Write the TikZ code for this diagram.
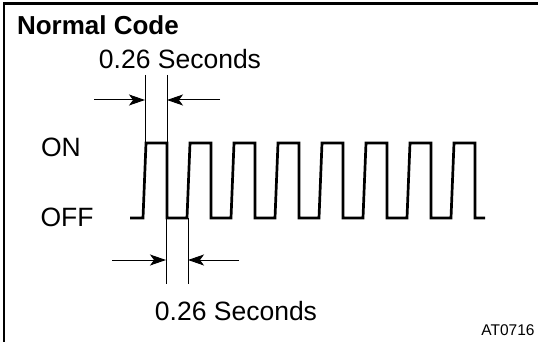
\documentclass[tikz,border=0pt]{standalone}
\usepackage{fontspec}
\setmainfont{Liberation Sans}
\usetikzlibrary{arrows.meta}
\begin{document}
\begin{tikzpicture}[x=1pt, y=-1pt, font=\fontsize{26.5}{30}\selectfont, every node/.style={inner sep=0pt, outer sep=0pt}, wave/.style={line width=2.7pt, line join=miter}, extline/.style={line width=1pt}, dimarrow/.style={line width=1pt, -{Stealth[length=16pt, width=11pt, inset=4pt]}}]
        \useasboundingbox (0,0) rectangle (538,342);
        \draw[line width=2.5pt] (4,342) -- (4,3.5) -- (538,3.5);
        \node[font=\fontsize{26}{30}\selectfont\bfseries, anchor=west] (title) at (17,25) {Normal Code};
        \node (on) at (61,147) {ON};
        \node (off) at (67,217) {OFF};
        \draw[wave] (130,218) \foreach \i in {0,...,7} { -- ({143+44*\i},218) -- ({146+44*\i},143) -- ({167+44*\i},143) -- ({167+44*\i},218) } -- (485,218);
        % upper width mark
        \coordinate (upA) at (145,75);
        \coordinate (upAend) at (145,143);
        \coordinate (upB) at (167,75);
        \coordinate (upBend) at (167,143);
        \coordinate (upL) at (94,100);
        \coordinate (upLtip) at (145,100);
        \coordinate (upR) at (220,100);
        \coordinate (upRtip) at (167,100);
        \draw[extline] (upA) -- (upAend);
        \draw[extline] (upB) -- (upBend);
        \draw[dimarrow] (upL) -- (upLtip);
        \draw[dimarrow] (upR) -- (upRtip);
        \node (uptext) at (180,59) {0.26 Seconds};
        % lower width mark
        \coordinate (loA) at (166,218);
        \coordinate (loAend) at (166,284);
        \coordinate (loB) at (188,218);
        \coordinate (loBend) at (188,284);
        \coordinate (loL) at (112,260);
        \coordinate (loLtip) at (166,260);
        \coordinate (loR) at (239,260);
        \coordinate (loRtip) at (188,260);
        \draw[extline] (loA) -- (loAend);
        \draw[extline] (loB) -- (loBend);
        \draw[dimarrow] (loL) -- (loLtip);
        \draw[dimarrow] (loR) -- (loRtip);
        \node (lotext) at (236,311) {0.26 Seconds};
        \node[font=\fontsize{15.5}{18}\selectfont] (code) at (508,330) {AT0716};
    \end{tikzpicture}
\end{document}
